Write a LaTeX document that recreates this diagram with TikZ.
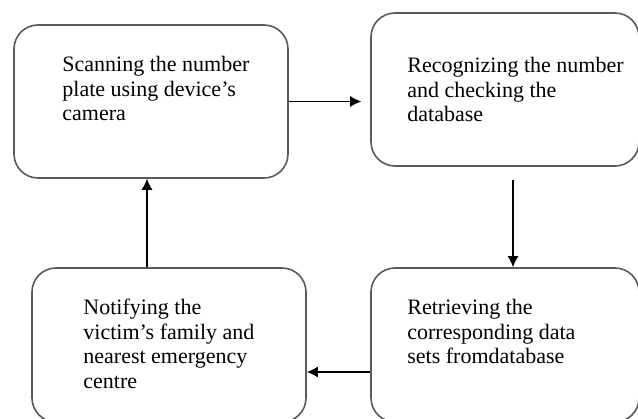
\documentclass[tikz,border=0pt]{standalone}
\usepackage{fontspec}
\setmainfont{Liberation Serif}
\usetikzlibrary{shapes,arrows.meta}
\tikzstyle{block} = [rectangle, draw=black!65, line width=1.6pt, rounded corners=24pt,
    minimum width=274pt, minimum height=153pt, inner sep=0pt]
\tikzstyle{boxtext} = [anchor=north west, inner sep=0pt, align=left,
    font=\fontsize{22}{24.5}\selectfont]
\tikzstyle{line} = [draw, line width=1.3pt, -{Latex[length=11pt,width=11pt]}]

\begin{document}
\begin{tikzpicture}[node distance = 354pt, x=1pt, y=1pt]
			\useasboundingbox (0,0) rectangle (638,-419);
			% Place nodes
			\node [block] (scan) at (151,-101.5) {};
			\node [block, right of=scan, yshift=12pt, minimum width=268pt] (recog) {};
			\node [block, below of=recog, node distance=255.5pt, minimum width=268pt, minimum height=154pt] (retr) {};
			\node [block, left of=retr, node distance=336pt, minimum height=154pt] (notif) {};
			% Texts
			\node [boxtext] (scan-t) at ([xshift=49pt,yshift=-32pt]scan.north west) {Scanning the number\\plate using device’s\\camera};
			\node [boxtext] (recog-t) at ([xshift=37pt,yshift=-45pt]recog.north west) {Recognizing the number\\and checking the\\database};
			\node [boxtext] (retr-t) at ([xshift=37pt,yshift=-32pt]retr.north west) {Retrieving the\\corresponding data\\sets fromdatabase};
			\node [boxtext] (notif-t) at ([xshift=52pt,yshift=-32pt]notif.north west) {Notifying the\\victim’s family and\\nearest emergency\\centre};
			% Draw edges
			\path [line] (scan.east) -- ([xshift=-9pt]recog.west |- scan.east);
			\path [line] ([xshift=8pt,yshift=-13pt]recog.south) -- ([xshift=8pt]retr.north);
			\path [line] ([yshift=-27pt]retr.west) -- ([yshift=-27pt]notif.east);
			\path [line] ([xshift=-22pt]notif.north) -- ([xshift=-4pt]scan.south);
	\end{tikzpicture}
\end{document}
